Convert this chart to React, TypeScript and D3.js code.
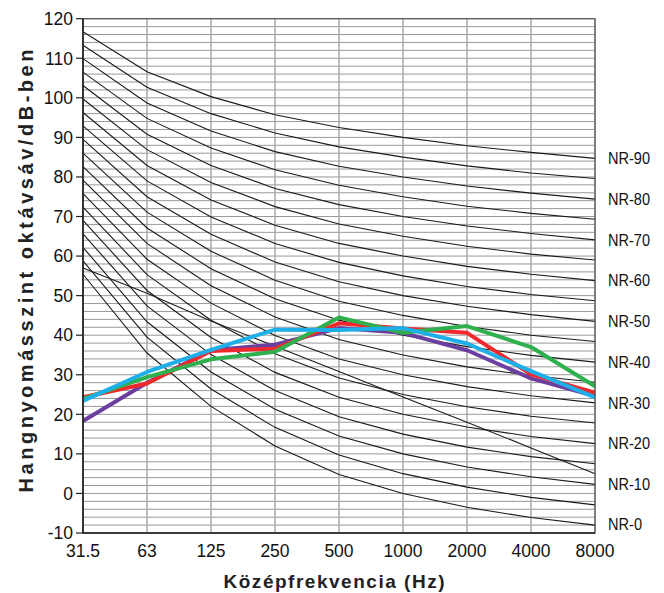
import React from "react";
import * as d3 from "d3";

const bands = ["31.5", "63", "125", "250", "500", "1000", "2000", "4000", "8000"];
const yTicks = [-10, 0, 10, 20, 30, 40, 50, 60, 70, 80, 90, 100, 110, 120];

const nrNames = [0, 5, 10, 15, 20, 25, 30, 35, 40, 45, 50, 55, 60, 65, 70, 75, 80, 85, 90];
const nrCurves = [
  [55.4, 35.5, 22.0, 12.0, 4.8, 0, -3.5, -6.1, -8.0],
  [58.8, 39.5, 26.4, 16.7, 9.7, 5, 1.6, -1.0, -2.9],
  [62.2, 43.4, 30.7, 21.3, 14.5, 10, 6.7, 4.2, 2.3],
  [65.6, 47.4, 35.1, 26.0, 19.4, 15, 11.7, 9.3, 7.5],
  [69.0, 51.3, 39.4, 30.6, 24.3, 20, 16.8, 14.4, 12.6],
  [72.4, 55.3, 43.8, 35.3, 29.2, 25, 21.9, 19.5, 17.8],
  [75.8, 59.2, 48.1, 39.9, 34.0, 30, 27.0, 24.7, 22.9],
  [79.2, 63.2, 52.5, 44.6, 38.9, 35, 32.0, 29.8, 28.1],
  [82.6, 67.1, 56.8, 49.2, 43.8, 40, 37.1, 34.9, 33.2],
  [86.0, 71.1, 61.2, 53.9, 48.6, 45, 42.2, 40.0, 38.4],
  [89.5, 75.0, 65.5, 58.5, 53.5, 50, 47.3, 45.2, 43.5],
  [92.9, 79.0, 69.9, 63.2, 58.4, 55, 52.3, 50.3, 48.7],
  [96.3, 82.9, 74.2, 67.8, 63.2, 60, 57.4, 55.4, 53.8],
  [99.7, 86.9, 78.6, 72.5, 68.1, 65, 62.5, 60.5, 59.0],
  [103.1, 90.8, 82.9, 77.1, 73.0, 70, 67.6, 65.7, 64.1],
  [106.5, 94.8, 87.3, 81.8, 77.9, 75, 72.6, 70.8, 69.3],
  [109.9, 98.7, 91.6, 86.4, 82.7, 80, 77.7, 75.9, 74.4],
  [113.3, 102.7, 96.0, 91.1, 87.6, 85, 82.8, 81.0, 79.6],
  [116.7, 106.6, 100.3, 95.7, 92.5, 90, 87.9, 86.2, 84.7],
];
const labeledNR = [0, 10, 20, 30, 40, 50, 60, 70, 80, 90];

const refLine = [57, 50.6, 43.6, 37.2, 30.8, 24.4, 18, 11.5, 5];

const purpleSeries = [18.3, 28.0, 36.2, 37.6, 41.8, 40.6, 36.2, 29.1, 24.6];
const redSeries = [24.3, 27.8, 36.0, 36.6, 43.0, 41.7, 40.6, 30.1, 25.5];
const greenSeries = [23.9, 29.4, 33.9, 35.8, 44.5, 40.6, 42.3, 37.0, 27.1];
const blueSeries = [23.4, 30.7, 36.3, 41.4, 41.3, 41.8, 37.9, 30.9, 24.3];

const seriesList = [
  { values: purpleSeries, color: "#6a3fa0" },
  { values: redSeries, color: "#ee2a2e" },
  { values: greenSeries, color: "#2eb04f" },
  { values: blueSeries, color: "#1eaee8" },
];

const W = 664;
const H = 593;
const left = 83;
const right = 595;
const top = 18.7;
const bottom = 533;
const font = "'Liberation Sans', Arial, sans-serif";

export default function App() {
  const x = d3.scalePoint<string>().domain(bands).range([left, right]);
  const y = d3.scaleLinear().domain([-10, 120]).range([bottom, top]);
  const line = d3
    .line<number>()
    .x((_, i) => x(bands[i]) as number)
    .y((d) => y(d));

  const minor = d3.range(-10, 121, 2);

  return (
    <svg
      width={W}
      height={H}
      style={{ position: "absolute", left: 0, top: 0, background: "#fff" }}
    >
      {minor.map((v) => (
        <line key={"h" + v} x1={left} x2={right} y1={y(v)} y2={y(v)} stroke="#999" strokeWidth={1} />
      ))}
      {bands.map((b) => (
        <line key={"v" + b} x1={x(b)} x2={x(b)} y1={top} y2={bottom} stroke="#aaa" strokeWidth={1.5} />
      ))}
      {nrCurves.map((c, i) => (
        <path key={"nr" + i} d={line(c) || ""} fill="none" stroke="#1a1a1a" strokeWidth={1.1} />
      ))}
      <path d={line(refLine) || ""} fill="none" stroke="#1a1a1a" strokeWidth={1.1} />
      {seriesList.map((s, i) => (
        <path
          key={"s" + i}
          d={line(s.values) || ""}
          fill="none"
          stroke={s.color}
          strokeWidth={4}
          strokeLinejoin="round"
        />
      ))}
      <rect x={left} y={top} width={right - left} height={bottom - top} fill="none" stroke="#555" strokeWidth={1.2} />
      <line x1={left} x2={left} y1={top} y2={bottom} stroke="#222" strokeWidth={1.6} />
      <line x1={left} x2={right} y1={bottom} y2={bottom} stroke="#222" strokeWidth={1.6} />
      {yTicks.map((t) => (
        <g key={"yt" + t}>
          <line x1={left - 7} x2={left} y1={y(t)} y2={y(t)} stroke="#222" strokeWidth={1.2} />
          <text
            x={left - 10}
            y={y(t)}
            dy="0.36em"
            textAnchor="end"
            fontFamily={font}
            fontSize={17.5}
            fill="#111"
          >
            {t}
          </text>
        </g>
      ))}
      {bands.map((b) => (
        <text
          key={"xt" + b}
          x={x(b)}
          y={557}
          textAnchor="middle"
          fontFamily={font}
          fontSize={17.5}
          fill="#111"
        >
          {b}
        </text>
      ))}
      {labeledNR.map((n) => {
        const idx = nrNames.indexOf(n);
        const v = nrCurves[idx][8];
        return (
          <text
            key={"nrl" + n}
            x={608}
            y={y(v) + (n === 0 ? -0.5 : 0)}
            dy="0.36em"
            fontFamily={font}
            fontSize={16}
            fill="#111"
            textLength={n === 0 ? 34 : 42}
            lengthAdjust="spacingAndGlyphs"
          >
            {"NR-" + n}
          </text>
        );
      })}
      <text
        x={334}
        y={588}
        textAnchor="middle"
        fontFamily={font}
        fontWeight="bold"
        fontSize={19}
        fill="#222"
        textLength={221}
        lengthAdjust="spacing"
      >
        Középfrekvencia (Hz)
      </text>
      <text
        transform={`translate(33, 271) rotate(-90)`}
        textAnchor="middle"
        fontFamily={font}
        fontWeight="bold"
        fontSize={20}
        fill="#222"
        textLength={443}
        lengthAdjust="spacing"
      >
        Hangnyomásszint oktávsáv/dB-ben
      </text>
    </svg>
  );
}
